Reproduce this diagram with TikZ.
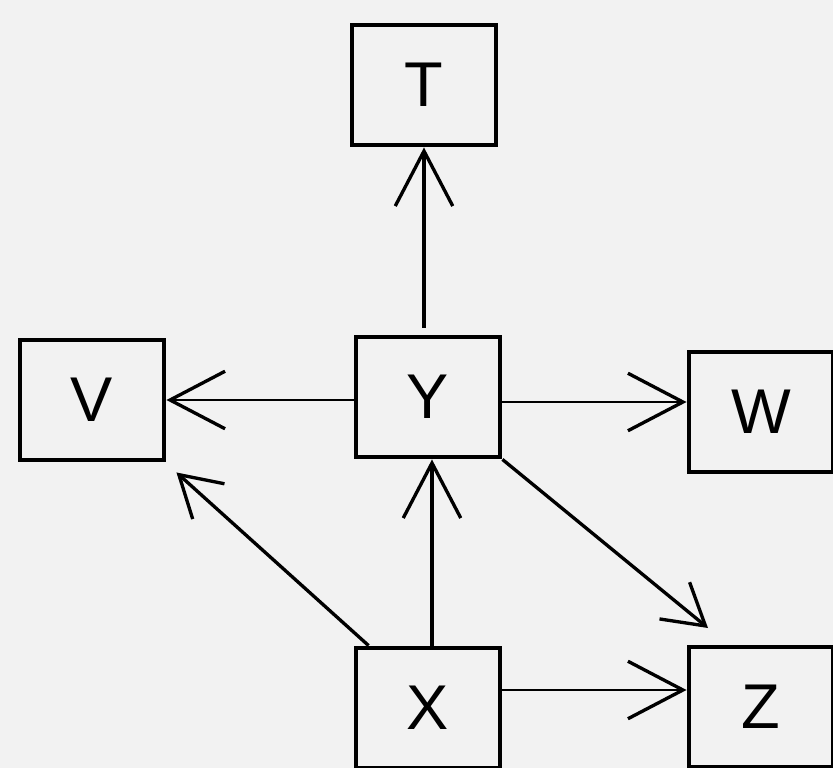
\documentclass[tikz,border=0pt]{standalone}
\usepackage{fontspec}
\setmainfont{Liberation Sans}
\usetikzlibrary{arrows.meta, positioning}

\begin{document}
\begin{tikzpicture}[
    x=0.02cm, y=-0.02cm,
    var/.style={rectangle, draw=black, line width=2.8pt, minimum width=2.88cm, minimum height=2.4cm, inner sep=0pt, font=\fontsize{36}{40}\selectfont},
    link/.style={-{Straight Barb[length=1.1cm, width=1.15cm, line width=1.9pt]}, line width=1.9pt, draw=black},
    thinlink/.style={link, line width=1.3pt},
    shortlink/.style={-{Straight Barb[length=0.8cm, width=0.95cm, line width=1.9pt]}, line width=1.9pt, draw=black}
]
% Background
\fill[black!5] (0,0) rectangle (833,768);
\useasboundingbox (0,0) rectangle (833,768);

% Nodes
\node[var] (T) at (424,85) {T};
\node[var] (Y) at (428,397) {Y};
\node[var] (V) at (92,400) {V};
\node[var] (W) at (761,412) {W};
\node[var] (X) at (428,708) {X};
\node[var] (Z) at (761,707) {Z};
\coordinate (ztop) at (708,628);

% Arrows
\draw[link] ([yshift=0.14cm]Y.north -| T.south) -- (T.south);
\draw[thinlink] ([yshift=-0.06cm]Y.west) -- ([yshift=-0.06cm]Y.west -| V.east);
\draw[thinlink] ([yshift=-0.1cm]Y.east) -- ([yshift=-0.1cm]Y.east -| W.west);
\draw[shortlink] (Y.south east) -- (ztop);
\draw[link] ([xshift=0.08cm]X.north) -- ([xshift=0.08cm]Y.south);
\draw[shortlink] ([xshift=0.3cm]X.north west) -- ([xshift=0.2cm,yshift=-0.2cm]V.south east);
\draw[thinlink] ([yshift=0.36cm]X.east) -- ([yshift=0.36cm]X.east -| Z.west);

\end{tikzpicture}
\end{document}
